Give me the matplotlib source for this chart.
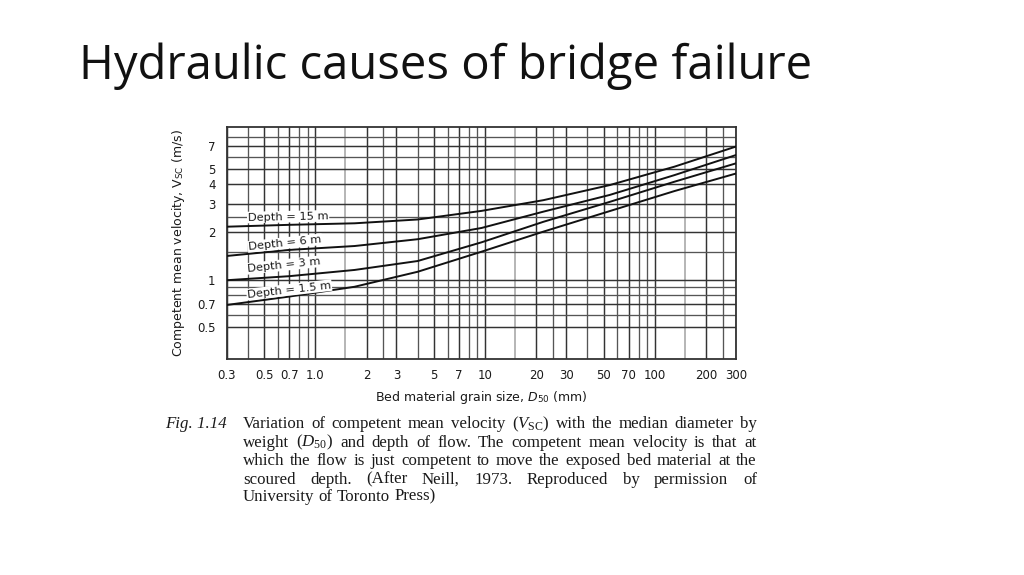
import matplotlib
matplotlib.use("Agg")
import matplotlib.pyplot as plt
from matplotlib.ticker import FixedLocator, NullFormatter

# grain size D50 (mm) where the curves were read
grain_mm = [0.3, 0.7, 1.7, 4, 9.5, 22, 54, 130, 300]

# competent mean velocity (m/s) for each flow depth
v_15m = [2.16, 2.22, 2.27, 2.40, 2.72, 3.18, 3.96, 5.18, 6.95]
v_6m = [1.41, 1.54, 1.63, 1.80, 2.12, 2.69, 3.43, 4.58, 6.14]
v_3m = [0.99, 1.05, 1.15, 1.31, 1.72, 2.32, 3.10, 4.16, 5.44]
v_1p5m = [0.69, 0.78, 0.90, 1.12, 1.50, 2.01, 2.71, 3.63, 4.69]

depth_labels = ["Depth = 15 m", "Depth = 6 m", "Depth = 3 m", "Depth = 1.5 m"]

x_major = [0.3, 0.5, 0.7, 1, 2, 3, 5, 7, 10, 20, 30, 50, 70, 100, 200, 300]
x_major_labels = ["0.3", "0.5", "0.7", "1.0", "2", "3", "5", "7", "10",
                  "20", "30", "50", "70", "100", "200", "300"]
x_minor = [0.4, 0.6, 0.8, 0.9, 2.5, 4, 6, 8, 9, 25, 40, 60, 80, 90, 250]
x_light = [1.5, 15, 150]

y_major = [0.5, 0.7, 1, 2, 3, 4, 5, 7]
y_major_labels = ["0.5", "0.7", "1", "2", "3", "4", "5", "7"]
y_minor = [0.6, 0.8, 0.9, 1.5, 2.5, 6, 8]

title = "Hydraulic causes of bridge failure"
fig_label = "Fig. 1.14"
caption_lines = [
    r"Variation of competent mean velocity ($V_{\mathrm{SC}}$) with the median diameter by",
    r"weight ($D_{\mathrm{50}}$) and depth of flow. The competent mean velocity is that at",
    "which the flow is just competent to move the exposed bed material at the",
    "scoured depth. (After Neill, 1973. Reproduced by permission of",
    "University of Toronto Press)",
]

W, H = 1024, 575

plt.rcParams["font.family"] = "DejaVu Sans"
plt.rcParams["mathtext.fontset"] = "custom"
plt.rcParams["mathtext.rm"] = "Liberation Serif"
plt.rcParams["mathtext.it"] = "Liberation Serif:italic"
plt.rcParams["mathtext.sf"] = "DejaVu Sans"
plt.rcParams["mathtext.bf"] = "DejaVu Sans:italic"


def px(x, y):
    """pixel position (from top left) -> figure fraction"""
    return x / W, 1 - y / H


def justify_line(fig, text, x0, x1, y, last=False, **kw):
    words = text.split(" ")
    r = fig.canvas.get_renderer()
    items = [fig.text(0, 0, w, va="baseline", ha="left", **kw) for w in words]
    widths = [t.get_window_extent(r).width for t in items]
    if last or len(words) == 1:
        t1 = fig.text(0, 0, "a b", **kw)
        t2 = fig.text(0, 0, "ab", **kw)
        gap = t1.get_window_extent(r).width - t2.get_window_extent(r).width
        t1.remove()
        t2.remove()
    else:
        gap = (x1 - x0 - sum(widths)) / (len(words) - 1)
    x = x0
    for t, w in zip(items, widths):
        t.set_position(px(x, y))
        x += w + gap


fig = plt.figure(figsize=(W / 100, H / 100), dpi=100)
fig.patch.set_facecolor("white")

fig.text(*px(79, 79), title, fontsize=34, family="Open Sans",
         va="baseline", ha="left", color="#111111")

ax = fig.add_axes([226.7 / W, 1 - 359 / H, (736 - 226.7) / W, (359 - 127.3) / H])
ax.set_xscale("log")
ax.set_yscale("log")
ax.set_xlim(0.3, 300)
ax.set_ylim(0.314, 9.2)

ax.xaxis.set_major_locator(FixedLocator(x_major))
ax.xaxis.set_minor_locator(FixedLocator(x_minor))
ax.set_xticklabels(x_major_labels)
ax.xaxis.set_minor_formatter(NullFormatter())
ax.yaxis.set_major_locator(FixedLocator(y_major))
ax.yaxis.set_minor_locator(FixedLocator(y_minor))
ax.set_yticklabels(y_major_labels)
ax.yaxis.set_minor_formatter(NullFormatter())

ax.tick_params(which="both", length=0)
ax.tick_params(axis="x", pad=7, labelsize=8.5, labelcolor="#1a1a1a")
ax.tick_params(axis="y", pad=8, labelsize=8.5, labelcolor="#1a1a1a")
ax.grid(which="major", color="#333333", lw=1.05)
ax.grid(which="minor", color="#555555", lw=0.95)
for v in x_light:
    ax.axvline(v, color="#b0b0b0", lw=1.3, zorder=0.5)
ax.set_axisbelow(True)
for s in ax.spines.values():
    s.set_color("#333333")
    s.set_linewidth(1.3)

for vals in (v_15m, v_6m, v_3m, v_1p5m):
    ax.plot(grain_mm, vals, color="#111111", lw=1.4, zorder=3)

label_pos = [(0.69, 2.5, 1.2), (0.66, 1.70, 6), (0.65, 1.235, 6), (0.70, 0.86, 6.5)]
for lab, (lx, ly, rot) in zip(depth_labels, label_pos):
    ax.text(lx, ly, lab, fontsize=8.2, rotation=rot, ha="center", va="center",
            color="#1a1a1a", zorder=4, rotation_mode="anchor",
            bbox=dict(facecolor="white", edgecolor="none", pad=0.6))

ax.set_xlabel(r"Bed material grain size, $\mathbf{D}_{\mathsf{50}}$ (mm)",
              fontsize=9, color="#1a1a1a", labelpad=5)
ax.set_ylabel(r"Competent mean velocity, $\mathsf{V}_{\mathsf{SC}}$ (m/s)",
              fontsize=9, color="#1a1a1a", labelpad=7)

# caption under the figure
cap_kw = dict(fontsize=12.2, family="Liberation Serif", color="#1a1a1a")
fig.text(*px(165, 428.5), fig_label, style="italic", va="baseline", **cap_kw)
baselines = [428.5, 446.8, 465.2, 483.5, 500.8]
for i, (line, yb) in enumerate(zip(caption_lines, baselines)):
    justify_line(fig, line, 243, 757, yb, last=(i == len(caption_lines) - 1), **cap_kw)

fig.savefig("out.png", dpi=100, facecolor="white")
